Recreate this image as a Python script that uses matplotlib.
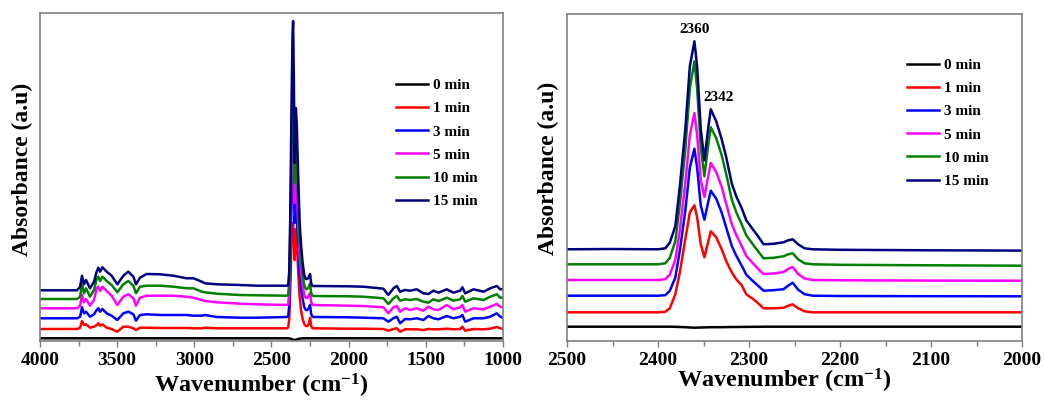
import matplotlib
matplotlib.use("Agg")
import matplotlib.pyplot as plt

plt.rcParams["font.family"] = ["Liberation Serif", "DejaVu Serif"]
plt.rcParams["font.weight"] = "bold"
plt.rcParams["mathtext.fontset"] = "custom"
plt.rcParams["mathtext.rm"] = "Liberation Serif:bold"
plt.rcParams["mathtext.it"] = "Liberation Serif:bold"
plt.rcParams["mathtext.bf"] = "Liberation Serif:bold"

labels = ["0 min", "1 min", "3 min", "5 min", "10 min", "15 min"]
colors = ["#000000", "#ff0000", "#0000ff", "#ff00ff", "#008000", "#000080"]

# ---------------- full range spectra (offset for clarity, a.u.) ----------------
wn_full = [4000, 3760, 3740, 3728, 3715, 3702, 3676, 3650, 3633, 3622, 3611, 3596,
           3568, 3536, 3499, 3460, 3428, 3395, 3378, 3352, 3309, 3222, 3136, 3050,
           3006, 2952, 2931, 2855, 2704, 2596, 2400,
           2392, 2385, 2378, 2370, 2364, 2360, 2355, 2350, 2346, 2342, 2336, 2328,
           2318, 2308, 2298, 2288, 2278, 2268, 2258, 2250, 2243, 2236, 2228,
           2000, 1904, 1775, 1743, 1710, 1688, 1667, 1634, 1602, 1559, 1516, 1483,
           1451, 1418, 1364, 1321, 1278, 1263, 1245, 1191, 1126, 1083, 1040, 1018, 1000]

full_0 = [2.7] * 31 + [2.7, 2.5, 2.3, 2.0, 1.6, 1.3, 1.1, 1.0, 1.1, 1.3, 1.6, 2.0,
                       2.3, 2.5, 2.7, 2.7, 2.7, 2.7, 2.7, 2.7, 2.7, 2.7, 2.7] + [2.7] * 25

full_1 = [12, 12, 13.3, 20, 16, 16.7, 13.3, 14.3, 16, 17.7, 15.3, 16.7, 13.3, 12, 9.3,
          14.3, 14.3, 12.7, 11, 13.3, 13.3, 13, 13, 13, 12.7, 12.7, 13.3, 12.7, 12.7,
          12.7, 12.7,
          13.5, 22, 55, 100, 115, 118, 100, 81, 100, 112, 100, 72, 45, 30, 22, 17, 15,
          15, 17, 23, 15, 13, 12.7,
          12.3, 12.3, 12, 10.3, 12, 12.7, 9.3, 11.7, 11.7, 11.7, 11, 12, 11.7, 11.7,
          12.3, 11.7, 12, 14.3, 10.3, 12, 11.7, 12.3, 14, 12.7, 12]

full_3 = [22.7, 22.7, 24.3, 33.7, 27.7, 29.3, 24.3, 26.7, 31, 32.7, 29.3, 32, 27.7,
          25.3, 21, 27.7, 29.3, 26.7, 20.3, 26, 26.7, 26, 26, 26, 25.3, 25.3, 26, 24,
          23.3, 23.3, 24,
          25, 35, 75, 140, 175, 180, 150, 118, 128, 138, 125, 98, 68, 52, 42, 34, 31,
          31, 33, 36, 27, 24.5, 24,
          23.7, 23.3, 22.7, 19.3, 22.7, 24.3, 17.7, 22, 21.7, 22.7, 21, 25, 22.7, 21.7,
          25, 22.7, 24.3, 26, 19.3, 22.7, 22.7, 24.3, 27.7, 24.3, 23.3]

full_5 = [32.7, 32.7, 35.3, 46, 38.7, 42, 35.3, 41, 52.7, 54.3, 50, 54.3, 50, 45.3,
          36, 44.3, 46.7, 42.7, 35.3, 43.3, 45.3, 45.3, 45.3, 44.3, 43.3, 41, 40, 38.7,
          37.3, 36.7, 36,
          37, 48, 95, 170, 215, 222, 185, 138, 150, 165, 150, 120, 85, 68, 55, 46, 43,
          43, 46, 48, 39, 36.5, 36,
          35.3, 35, 33.7, 27.7, 33.7, 35, 29.3, 32.7, 31, 32.7, 30.3, 34.3, 31.7, 31,
          36, 31.7, 33.7, 36, 29.3, 32.7, 31.7, 34.3, 37, 34.3, 33.7]

full_10 = [42, 42, 44.3, 56.7, 47.7, 52.7, 44.3, 51, 62, 64.3, 60, 64.3, 60, 56, 48.7,
           56.7, 60, 55.3, 47.7, 54.3, 55.3, 55.3, 54.3, 52.7, 52.7, 49.3, 48.7, 47.3,
           46, 45.7, 45.3,
           46, 58, 110, 200, 250, 262, 215, 158, 170, 190, 175, 140, 100, 80, 66, 56,
           52, 52, 54, 57.5, 48, 45.5, 45,
           44.7, 44.3, 42.7, 37, 42.7, 45, 40.3, 41.7, 41, 42, 39.3, 38.3, 41.7, 40,
           43.3, 40.3, 41.7, 45, 39.3, 42.7, 41, 44.3, 46.7, 43.3, 43.3]

full_15 = [50.7, 50.7, 54.3, 65.3, 56.7, 61, 52.7, 59.3, 69.3, 73.3, 69.3, 73.7, 69.3,
           65.3, 56.7, 65.3, 69.3, 64.3, 56.7, 63.3, 67, 66.7, 65.3, 62.7, 62.7, 59.3,
           57.7, 56.7, 56, 55.3, 55.3,
           56, 70, 130, 240, 305, 320, 260, 178, 205, 233, 215, 170, 120, 95, 78, 66,
           62, 62, 64, 67, 58, 55, 55,
           54.7, 54.3, 52.3, 46, 52.7, 55, 49.3, 51, 50.3, 51.7, 47.7, 47, 50.3, 48.3,
           51.7, 48.3, 50.3, 53.7, 47.7, 51.7, 49.3, 52.7, 55, 51.7, 52]

# ---------------- CO2 region (offset for clarity, a.u.) ----------------
wn_co2 = [2500, 2450, 2400, 2392, 2387, 2381, 2376, 2370, 2365, 2360, 2357, 2353, 2349,
          2345, 2342, 2336, 2330, 2325, 2319, 2314, 2308, 2303, 2295, 2290, 2284, 2273,
          2262, 2257, 2252, 2246, 2239, 2230, 2200, 2100, 2000]

co2_0 = [14.3, 14.3, 14.3, 14.3, 14.3, 14.2, 14.0, 13.8, 13.5, 13.3, 13.4, 13.5, 13.6,
         13.7, 13.8, 13.8, 13.8, 13.9, 14.0, 14.0, 14.1, 14.1, 14.2, 14.2, 14.3, 14.3,
         14.3, 14.3, 14.3, 14.3, 14.3, 14.3, 14.3, 14.3, 14.3]

co2_1 = [28.7, 28.7, 28.7, 29.2, 32.7, 46.7, 68.7, 101.7, 128.7, 135.7, 123.7, 96.7,
         83.7, 98.7, 109.7, 103.7, 91.7, 79.7, 68.7, 61.7, 55.7, 46.7, 41.7, 37.7, 32.7,
         32.7, 33.2, 35.2, 36.7, 32.7, 29.7, 28.7, 28.7, 28.7, 28.7]

co2_3 = [45.3, 45.3, 45.3, 45.8, 50.3, 63.3, 90.3, 130.3, 173.3, 192.3, 173.3, 135.3,
         121.3, 138.3, 150.3, 142.3, 128.3, 113.3, 95.3, 85.3, 75.3, 66.3, 59.3, 55.3,
         50.3, 50.8, 51.8, 55.3, 58.3, 51.3, 46.8, 45.3, 45.0, 44.8, 44.7]

co2_5 = [61, 61, 61, 61.8, 66.5, 81, 111, 158, 206, 228, 206, 161, 144, 164, 178, 169,
         154, 137, 117, 106, 95, 85, 77, 72, 67, 67.5, 69, 72, 74, 67, 62.5, 61, 60.7,
         60.4, 60.3]

co2_10 = [76.7, 76.7, 76.7, 77.7, 83.2, 99.7, 136.7, 191.7, 252.7, 279.7, 252.7, 193.7,
          164.7, 194.7, 213.7, 202.7, 185.7, 166.7, 141.7, 128.7, 116.7, 105.7, 95.7,
          89.7, 82.7, 83.2, 84.7, 86.7, 87.7, 81.7, 77.7, 76.7, 76.2, 75.7, 75.3]

co2_15 = [91.7, 92.0, 91.7, 92.7, 98.4, 114.7, 154.7, 211.7, 274.7, 299.7, 274.7, 211.7,
          180.7, 211.7, 231.7, 219.7, 201.7, 183.7, 157.7, 144.7, 132.7, 120.7, 110.7,
          104.7, 96.7, 97.2, 98.7, 100.7, 101.7, 96.7, 92.7, 91.7, 91.2, 90.7, 90.4]

peak_labels = [2360, 2342]

full_series = [full_0, full_1, full_3, full_5, full_10, full_15]
co2_series = [co2_0, co2_1, co2_3, co2_5, co2_10, co2_15]

W, H = 1044, 403
fig = plt.figure(figsize=(W / 100, H / 100), dpi=100)
ax1 = fig.add_axes([40 / W, 62 / H, 463 / W, 328 / H])
ax2 = fig.add_axes([567 / W, 62 / H, 455 / W, 327 / H])

frame = "#808080"
for ax in (ax1, ax2):
    for sp in ax.spines.values():
        sp.set_color(frame)
        sp.set_linewidth(1.2)
    ax.set_yticks([])
    ax.tick_params(axis="x", which="both", direction="out", color=frame,
                   labelsize=14, pad=4)
    ax.tick_params(axis="x", which="major", length=4, width=1.0)
    ax.tick_params(axis="x", which="minor", length=3.5, width=1.0)

for ys, c, lab in zip(full_series, colors, labels):
    ax1.plot(wn_full, ys, color=c, lw=1.8, label=lab, solid_joinstyle="round")
ax1.set_xlim(4000, 1000)
ax1.set_ylim(0, 328)
ax1.set_xticks([4000, 3500, 3000, 2500, 2000, 1500, 1000])
ax1.set_xticks([3750, 3250, 2750, 2250, 1750, 1250], minor=True)

for ys, c, lab in zip(co2_series, colors, labels):
    ax2.plot(wn_co2, ys, color=c, lw=1.8, label=lab, solid_joinstyle="round")
ax2.set_xlim(2500, 2000)
ax2.set_ylim(0, 327)
ax2.set_xticks([2500, 2400, 2300, 2200, 2100, 2000])
ax2.set_xticks([2450, 2350, 2250, 2150, 2050], minor=True)

for ax in (ax1, ax2):
    for t in ax.get_xticklabels():
        t.set_fontweight("bold")

# peak annotations on the 15 min trace
top = co2_15
ax2.text(peak_labels[0], top[wn_co2.index(peak_labels[0])] + 12, str(peak_labels[0]),
         ha="center", va="center", fontsize=11, fontweight="bold")
ax2.text(peak_labels[1] - 9, top[wn_co2.index(peak_labels[1])] + 12, str(peak_labels[1]),
         ha="center", va="center", fontsize=11, fontweight="bold")

leg_kw = dict(frameon=False, prop={"weight": "bold", "size": 11}, handlelength=2.1,
              handletextpad=0.3, labelspacing=0.62, borderpad=0, borderaxespad=0,
              loc="upper left")
ax1.legend(bbox_to_anchor=(0.769, 0.800), **leg_kw)
ax2.legend(bbox_to_anchor=(0.747, 0.864), **leg_kw)

xlab = r"Wavenumber (cm$^{-1}$)"
fig.text(261 / W, 1 - 393 / H, xlab, ha="center", va="baseline", fontsize=17.5,
         fontweight="bold")
fig.text(784 / W, 1 - 388 / H, xlab, ha="center", va="baseline", fontsize=17.5,
         fontweight="bold")
fig.text(22 / W, 1 - 169 / H, "Absorbance (a.u)", ha="center", va="center",
         rotation=90, fontsize=17, fontweight="bold")
fig.text(548 / W, 1 - 168 / H, "Absorbance (a.u)", ha="center", va="center",
         rotation=90, fontsize=17, fontweight="bold")

fig.savefig("out.png", dpi=100)
